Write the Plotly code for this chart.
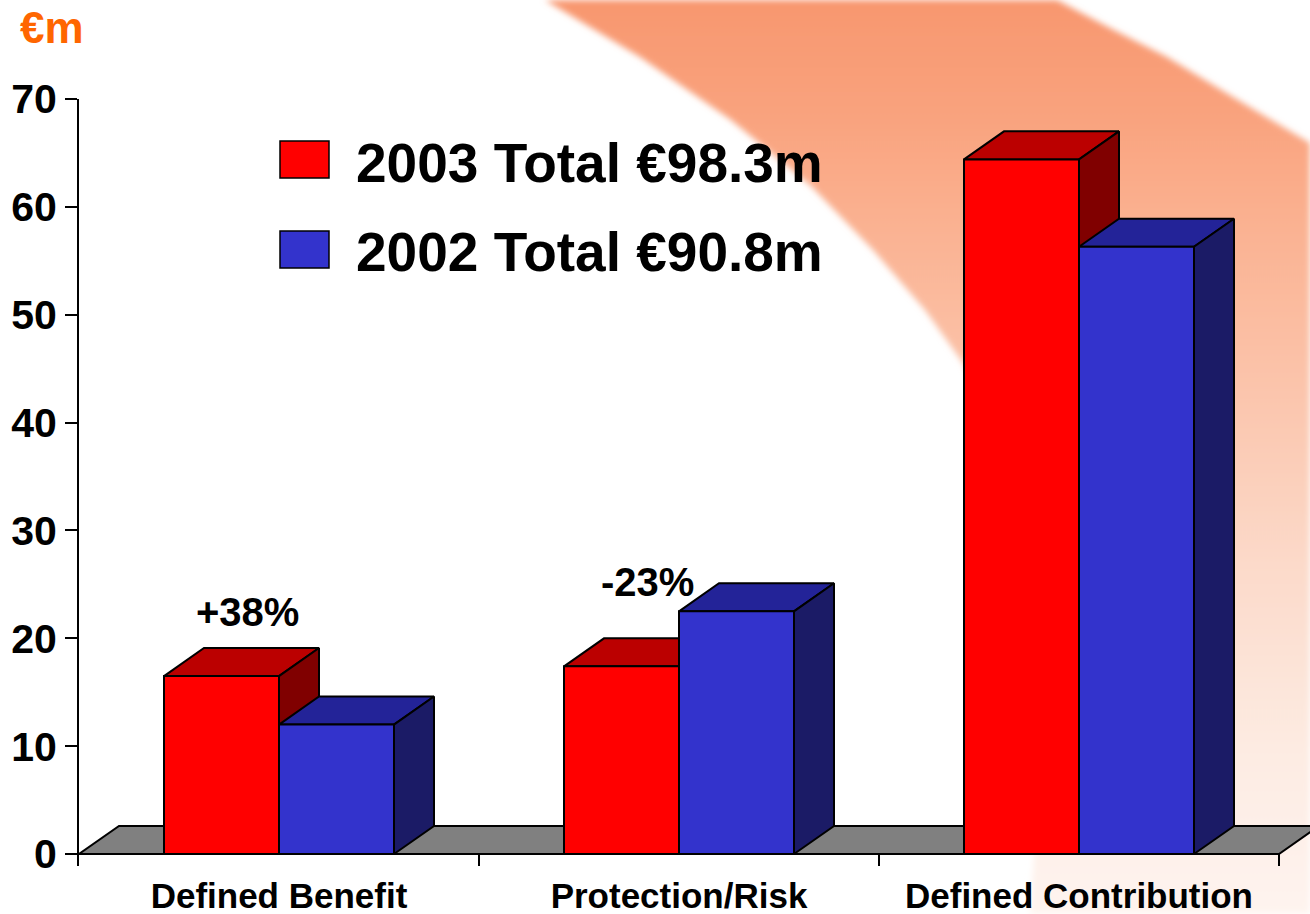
import base64
import plotly.graph_objects as go

# ---------------- data ----------------
categories = ["Defined Benefit", "Protection/Risk", "Defined Contribution"]
values_2003 = [16.5, 17.4, 64.4]
values_2002 = [12.0, 22.5, 56.3]
series_names = ["2003", "2002"]
change_labels = ["+38%", "-23%", "+14%"]
y_ticks = [0, 10, 20, 30, 40, 50, 60, 70]
unit_label = "€m"

# ---------------- style ----------------
FONT = "Liberation Sans, Arial, sans-serif"
W, H = 1310, 914
L, R, T, B = 79, 0, 99, 48
PW, PH = W - L - R, H - T - B
X0 = -0.5
XR = [X0, X0 + PW / 400.0]
YR = [-1.11, 70]
BAR_W = 0.2875
DX, DY = 0.1, 2.6          # 3-D depth offset in axis units
pct_dx = [-0.08, -0.08, -0.06]
pct_dy = [3.3, 5.2, 4.0]
RED = dict(front="#FF0000", top="#BB0000", side="#800000")
BLUE = dict(front="#3333CC", top="#232398", side="#1B1B66")
FLOOR = "#808080"


def px_to_paper_x(px):
    return (px - L) / PW


def px_to_paper_y(py):
    return (H - B - py) / PH


# ---------------- background swoosh (decoration) ----------------
inner = [(545, 0), (640, 57), (731, 120), (810, 185), (873, 250), (925, 310),
         (963, 363), (1005, 450), (1035, 560), (1045, 700), (1030, 914)]
outer = [(1310, 143), (1233, 97), (1167, 57), (1110, 28), (1057, 0)]
pts = inner + [(1310, 914)] + outer
d = "M " + " L ".join(f"{x} {y}" for x, y in pts) + " Z"
svg = f'''<svg xmlns="http://www.w3.org/2000/svg" width="{W}" height="{H}" viewBox="0 0 {W} {H}">
<defs>
<linearGradient id="g" x1="0" y1="0" x2="0" y2="1">
<stop offset="0" stop-color="#F8976F"/>
<stop offset="0.12" stop-color="#F9A27D"/>
<stop offset="0.25" stop-color="#FAB292"/>
<stop offset="0.42" stop-color="#FBC4AB"/>
<stop offset="0.62" stop-color="#FCDACA"/>
<stop offset="0.82" stop-color="#FDEBE2"/>
<stop offset="1" stop-color="#FEF4EF"/>
</linearGradient>
<filter id="b" x="-5%" y="-5%" width="110%" height="110%"><feGaussianBlur stdDeviation="3"/></filter>
</defs>
<path d="{d}" fill="url(#g)" filter="url(#b)"/>
</svg>'''
svg_uri = "data:image/svg+xml;base64," + base64.b64encode(svg.encode()).decode()


def poly(points_list):
    xs, ys = [], []
    for pts_ in points_list:
        for x, y in pts_:
            xs.append(x)
            ys.append(y)
        xs.append(pts_[0][0])
        ys.append(pts_[0][1])
        xs.append(None)
        ys.append(None)
    return xs, ys


idx = list(range(len(categories)))

# floor
floor = [[(X0, 0), (len(categories) - 0.5, 0), (len(categories) - 0.5 + DX, DY), (X0 + DX, DY)]]

red_tops = [[(c - BAR_W, v), (c, v), (c + DX, v + DY), (c - BAR_W + DX, v + DY)]
            for c, v in zip(idx, values_2003)]
red_sides = [[(c, 0), (c + DX, DY), (c + DX, v + DY), (c, v)]
             for c, v in zip(idx, values_2003)]
blue_tops = [[(c, v), (c + BAR_W, v), (c + BAR_W + DX, v + DY), (c + DX, v + DY)]
             for c, v in zip(idx, values_2002)]
blue_sides = [[(c + BAR_W, 0), (c + BAR_W + DX, DY), (c + BAR_W + DX, v + DY), (c + BAR_W, v)]
              for c, v in zip(idx, values_2002)]

fig = go.Figure()
outline = dict(color="black", width=2)


def add_poly(points_list, color, xa, ya):
    xs, ys = poly(points_list)
    fig.add_trace(go.Scatter(x=xs, y=ys, mode="lines", fill="toself", fillcolor=color,
                             line=outline, xaxis=xa, yaxis=ya, showlegend=False,
                             hoverinfo="skip"))


# layer 1
add_poly(floor, FLOOR, "x", "y")
add_poly(red_tops, RED["top"], "x", "y")
add_poly(red_sides, RED["side"], "x", "y")
# layer 2
fig.add_trace(go.Bar(x=idx, y=values_2003, width=BAR_W, offset=-BAR_W, name=series_names[0],
                     marker=dict(color=RED["front"], line=outline), xaxis="x2", yaxis="y2",
                     showlegend=False))
add_poly(blue_tops, BLUE["top"], "x2", "y2")
add_poly(blue_sides, BLUE["side"], "x2", "y2")
# layer 3
fig.add_trace(go.Bar(x=idx, y=values_2002, width=BAR_W, offset=0, name=series_names[1],
                     marker=dict(color=BLUE["front"], line=outline), xaxis="x3", yaxis="y3",
                     showlegend=False))

annotations = []
for c, v, lab, ddx, ddy in zip(idx, values_2003, change_labels, pct_dx, pct_dy):
    annotations.append(dict(x=c + ddx, y=v + DY + ddy, xref="x", yref="y", text=lab,
                            showarrow=False, xanchor="center", yanchor="middle",
                            font=dict(family=FONT, size=40, color="black", weight="bold")))

# custom legend
totals = [sum(values_2003), sum(values_2002)]
leg_rows = [(141, 178, 163), (231, 268, 252)]
shapes = []
for name, tot, col, (y0, y1, yc) in zip(series_names, totals, [RED["front"], BLUE["front"]], leg_rows):
    shapes.append(dict(type="rect", xref="paper", yref="paper",
                       x0=px_to_paper_x(280), x1=px_to_paper_x(329),
                       y0=px_to_paper_y(y1), y1=px_to_paper_y(y0),
                       fillcolor=col, line=dict(color="black", width=1.5)))
    annotations.append(dict(x=px_to_paper_x(354), y=px_to_paper_y(yc), xref="paper", yref="paper",
                            text=f"{name} Total €{tot:.1f}m", showarrow=False,
                            xanchor="left", yanchor="middle",
                            font=dict(family=FONT, size=55, color="black", weight="bold")))

annotations.append(dict(x=px_to_paper_x(52), y=px_to_paper_y(27), xref="paper", yref="paper",
                        text=unit_label, showarrow=False, xanchor="center", yanchor="middle",
                        font=dict(family=FONT, size=44, color="#FF6600", weight="bold")))

hidden = dict(visible=False, showgrid=False, zeroline=False)
fig.update_layout(
    width=W, height=H,
    margin=dict(l=L, r=R, t=T, b=B, pad=0),
    paper_bgcolor="white", plot_bgcolor="rgba(0,0,0,0)",
    showlegend=False,
    xaxis=dict(range=XR, tickvals=idx, ticktext=categories, ticks="", showline=False,
               showgrid=False, zeroline=False, ticklabelstandoff=6,
               tickfont=dict(family=FONT, size=35, color="black", weight="bold")),
    yaxis=dict(range=YR, tickvals=y_ticks, ticks="outside", ticklen=12, tickwidth=2,
               tickcolor="black", showline=True, linewidth=2, linecolor="black",
               showgrid=False, zeroline=False,
               tickfont=dict(family=FONT, size=41, color="black", weight="bold")),
    xaxis2=dict(range=XR, overlaying="x", anchor="y2",
                tickvals=[i - 0.5 for i in range(len(categories) + 1)],
                ticks="inside", ticklen=13, tickwidth=2, tickcolor="black",
                showticklabels=False, showline=False, showgrid=False, zeroline=False),
    yaxis2=dict(range=YR, overlaying="y", **hidden),
    xaxis3=dict(range=XR, overlaying="x", anchor="y3", **hidden),
    yaxis3=dict(range=YR, overlaying="y", **hidden),
    annotations=annotations,
    shapes=shapes,
    images=[dict(source=svg_uri, xref="paper", yref="paper",
                 x=px_to_paper_x(0), y=px_to_paper_y(0), sizex=W / PW, sizey=H / PH,
                 xanchor="left", yanchor="top", sizing="stretch", layer="below")],
)

fig.write_html(
    "out.html",
    config={"displayModeBar": False},
    post_script="document.body.style.margin='0';document.body.style.overflow='hidden';",
)
